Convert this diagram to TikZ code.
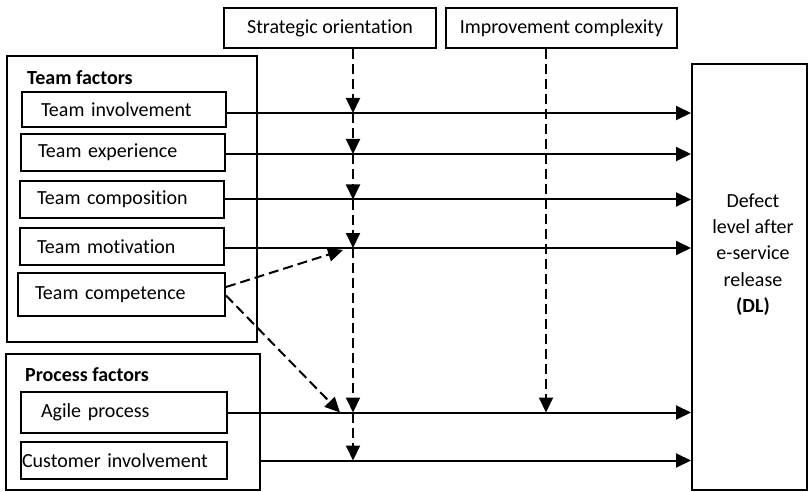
\documentclass[tikz,border=0pt]{standalone}
\usepackage{fontspec}
\setmainfont{Carlito}[Ligatures=NoCommon]
\usetikzlibrary{arrows.meta}
\begin{document}
\begin{tikzpicture}[x=1pt,y=-1pt,
  box/.style={draw, line width=2pt, rectangle, inner sep=0pt},
  txt/.style={font=\fontsize{20}{26.3}\selectfont},
  item/.style={box, txt, text width=170pt, inner xsep=17pt, align=left},
  flow/.style={line width=2pt, -{Triangle[length=15pt,width=14pt]}},
  mod/.style={flow, dash pattern=on 10pt off 5pt},
]
\useasboundingbox (0,0) rectangle (809,492);

% groups and outcome
\node[box, minimum width=250pt, minimum height=286pt] (team) at (132,199) {};
\node[box, minimum width=254pt, minimum height=136pt] (proc) at (133,422) {};
\node[box, minimum width=115pt, minimum height=426pt] (dl) at (749.5,277) {};
\node[txt, align=center] (dltext) at (753,254.5) {Defect\\level after\\e-service\\release\\\textbf{(DL)}};

% moderators
\node[box, txt, minimum width=212pt, minimum height=40pt] (strat) at (330,28) {Strategic orientation};
\node[box, txt, minimum width=231pt, minimum height=40pt] (impr) at (561.5,28) {Improvement complexity};

% group titles
\node[txt, anchor=west, inner sep=0pt] (teamtitle) at (27,78) {\textbf{Team factors}};
\node[txt, anchor=west, inner sep=0pt] (proctitle) at (25,375) {\textbf{Process factors}};

% factors
\node[item, minimum height=35pt] (inv) at (124,109.5) {\hspace*{2pt}Team involvement};
\node[item, minimum height=37pt] (exp) at (123,152.5) {Team experience};
\node[item, minimum height=37pt] (comp) at (122,199.5) {Team composition};
\node[item, minimum height=37pt] (mot) at (122,246.5) {Team motivation};
\node[box, txt, text width=173pt, inner xsep=17pt, align=left, minimum height=43pt] (cpt) at (121.5,294.5) {Team competence};
\node[box, txt, text width=172pt, inner xsep=17pt, align=left, minimum height=41pt] (agile) at (124,412.5) {\hspace*{3pt}Agile process};
\node[box, txt, text width=204pt, inner xsep=1pt, align=left, minimum height=37pt] (cust) at (124,460.5) {Customer involvement};

% crossing points on the moderator lines (y grows downward, so a negative yshift moves down)
\coordinate (sx) at (353,0);
\coordinate (ix) at (546,0);
\coordinate (a1) at ([yshift=-3.5pt]inv.east);
\coordinate (a2) at ([yshift=-1.5pt]exp.east);
\coordinate (a3) at (comp.east);
\coordinate (a4) at ([yshift=-1.5pt]mot.east);
\coordinate (a5) at (agile.east);
\coordinate (a6) at (proc.east |- cust.east);
\coordinate (s0) at (sx |- strat.south);
\coordinate (s1) at (sx |- a1);
\coordinate (s2) at (sx |- a2);
\coordinate (s3) at (sx |- a3);
\coordinate (s4) at (sx |- a4);
\coordinate (s5) at (sx |- a5);
\coordinate (s6) at (sx |- a6);
\coordinate (i0) at (ix |- impr.south);
\coordinate (i5) at (ix |- a5);
\coordinate (c4) at ([xshift=-10pt,yshift=-2pt]s4);
\coordinate (c5) at ([xshift=-13pt]s5);

% direct effects
\draw[flow] (a1) -- (a1 -| dl.west);
\draw[flow] (a2) -- (a2 -| dl.west);
\draw[flow] (a3) -- (a3 -| dl.west);
\draw[flow] (a4) -- (a4 -| dl.west);
\draw[flow] (a5) -- (a5 -| dl.west);
\draw[flow] (a6) -- (a6 -| dl.west);

% moderating effects
\draw[mod] (s0) -- (s1);
\draw[mod] (s1) -- (s2);
\draw[mod] (s2) -- (s3);
\draw[mod] (s3) -- (s4);
\draw[mod] (s4) -- (s5);
\draw[mod] (s5) -- (s6);
\draw[mod] (i0) -- (i5);

% team competence as moderator
\draw[mod] ([yshift=7.5pt]cpt.east) -- (c4);
\draw[mod] ([yshift=-1pt]cpt.east) -- (c5);
\end{tikzpicture}
\end{document}
